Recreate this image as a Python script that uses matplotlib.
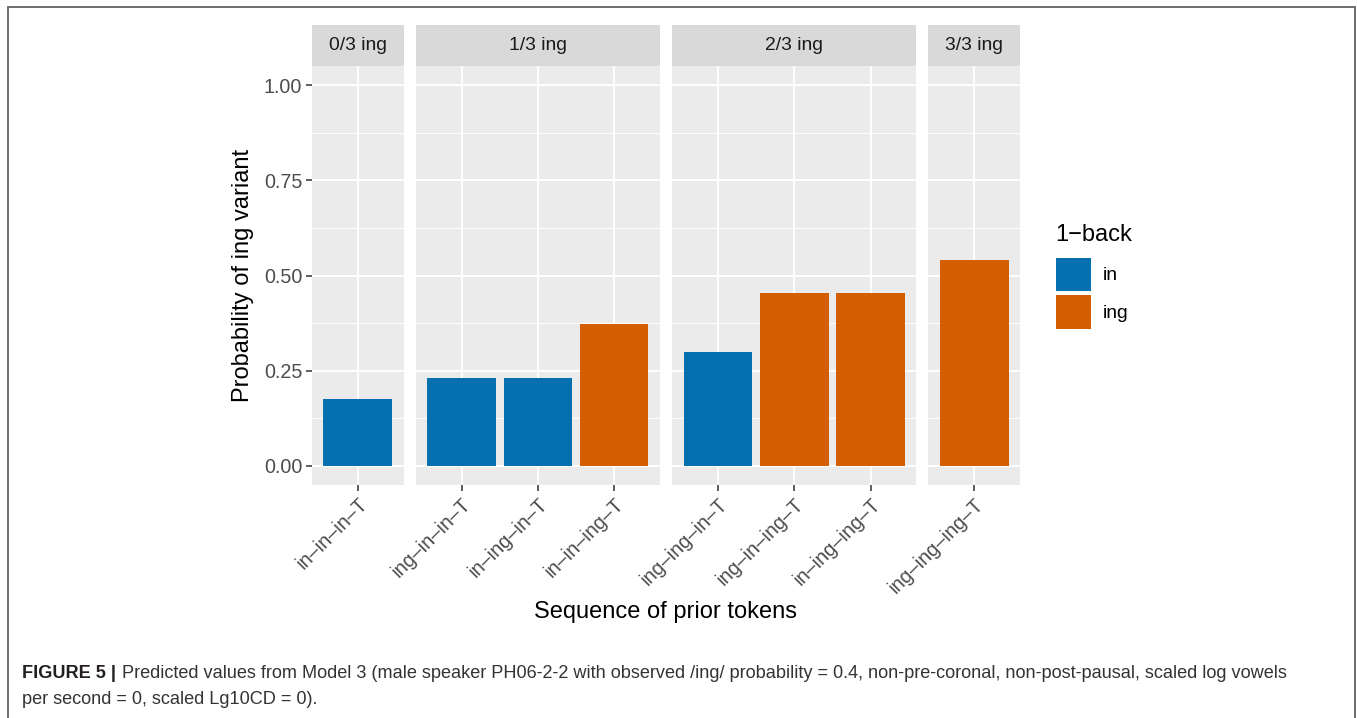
import matplotlib
matplotlib.use("Agg")
import matplotlib.pyplot as plt
from matplotlib.patches import Patch, Rectangle

plt.rcParams['font.family'] = ['Liberation Sans', 'DejaVu Sans']

# ---- data -------------------------------------------------------------
facets = ["0/3 ing", "1/3 ing", "2/3 ing", "3/3 ing"]
sequences = [
    ["in\u2013in\u2013in\u2013T"],
    ["ing\u2013in\u2013in\u2013T", "in\u2013ing\u2013in\u2013T", "in\u2013in\u2013ing\u2013T"],
    ["ing\u2013ing\u2013in\u2013T", "ing\u2013in\u2013ing\u2013T", "in\u2013ing\u2013ing\u2013T"],
    ["ing\u2013ing\u2013ing\u2013T"],
]
probabilities = [
    [0.177],
    [0.232, 0.232, 0.372],
    [0.299, 0.455, 0.455],
    [0.541],
]
one_back = [
    ["in"],
    ["in", "in", "ing"],
    ["in", "ing", "ing"],
    ["ing"],
]
legend_levels = ["in", "ing"]
level_colors = {"in": "#0570B0", "ing": "#D55E00"}
y_ticks = [0.00, 0.25, 0.50, 0.75, 1.00]
y_tick_labels = ["0.00", "0.25", "0.50", "0.75", "1.00"]

# ---- figure -----------------------------------------------------------
W, H = 1357, 718
fig = plt.figure(figsize=(W / 100, H / 100), dpi=100)

def fx(px):
    return px / W

def fy(py):
    return 1 - py / H

panel_left = 312
unit = 76.3          # pixels per discrete x unit
gap = 12.2
panel_top = 66
panel_bottom = 485
strip_top = 25

grey_bg = "#EBEBEB"
strip_bg = "#D9D9D9"
axis_text = "#4D4D4D"
tick_size = 14.2
strip_size = 13.9
title_size = 17.0

x = panel_left
for i, (facet, seqs, vals, backs) in enumerate(zip(facets, sequences, probabilities, one_back)):
    n = len(seqs)
    wpx = (n + 0.2) * unit
    ax = fig.add_axes([fx(x), fy(panel_bottom), wpx / W, (panel_bottom - panel_top) / H])
    ax.set_facecolor(grey_bg)
    pos = list(range(n))
    ax.set_xlim(-0.6, n - 1 + 0.6)
    ax.set_ylim(-0.05, 1.05)
    # grid
    for yv in [0.125, 0.375, 0.625, 0.875]:
        ax.axhline(yv, color="white", lw=0.7, zorder=0.5)
    for yv in y_ticks:
        ax.axhline(yv, color="white", lw=1.4, zorder=0.6)
    for p in pos:
        ax.axvline(p, color="white", lw=1.4, zorder=0.6)
    ax.bar(pos, vals, width=0.9, color=[level_colors[b] for b in backs], zorder=2)
    for s in ax.spines.values():
        s.set_visible(False)
    ax.set_xticks(pos)
    ax.set_xticklabels(seqs, rotation=45, ha="right", rotation_mode="anchor",
                       fontsize=tick_size, color=axis_text)
    ax.tick_params(axis="x", length=4, width=1.1, color="#333333", pad=3)
    if i == 0:
        ax.set_yticks(y_ticks)
        ax.set_yticklabels(y_tick_labels, fontsize=tick_size, color=axis_text)
        ax.tick_params(axis="y", length=4, width=1.1, color="#333333", pad=3)
    else:
        ax.set_yticks([])
    # facet strip
    sax = fig.add_axes([fx(x), fy(panel_top), wpx / W, (panel_top - strip_top) / H])
    sax.set_facecolor(strip_bg)
    sax.set_xticks([])
    sax.set_yticks([])
    for s in sax.spines.values():
        s.set_visible(False)
    sax.text(0.5, 0.5, facet, ha="center", va="center", fontsize=strip_size,
             color="#1A1A1A", transform=sax.transAxes)
    x += wpx + gap

# axis titles
fig.text(fx(243), fy(275), "Probability of ing variant", rotation=90,
         ha="center", va="center", fontsize=title_size, color="black")
fig.text(fx(665), fy(612), "Sequence of prior tokens", ha="center", va="center",
         fontsize=title_size, color="black")

# legend
handles = [Patch(facecolor=level_colors[l], edgecolor="none") for l in legend_levels]
leg = fig.legend(handles, legend_levels, title="1\u2212back",
                 loc="upper left", bbox_to_anchor=(fx(1048), fy(216)),
                 frameon=False, fontsize=strip_size, title_fontsize=title_size,
                 handlelength=1.82, handleheight=2.3, labelspacing=0.2,
                 handletextpad=0.62, borderaxespad=0, alignment="left")
# extra room between the legend title and its keys
leg._legend_box.sep = 8.6

# figure frame
frame = Rectangle((fx(7.5), -0.01), fx(1355) - fx(7.5), fy(6.5) + 0.01,
                  transform=fig.transFigure, fill=False, edgecolor="#6E6E6E",
                  lw=1.4, zorder=10)
fig.patches.append(frame)

# caption
fig.canvas.draw()
renderer = fig.canvas.get_renderer()
cap_size = 13.1
t_bold = fig.text(fx(22), fy(673), "FIGURE 5 |", fontsize=cap_size, fontweight="bold",
                  color="#231F20", ha="left", va="center")
bb = t_bold.get_window_extent(renderer=renderer)
fig.text(bb.x1 / W + fx(6), fy(673),
         "Predicted values from Model 3 (male speaker PH06-2-2 with observed /ing/ probability = 0.4, "
         "non-pre-coronal, non-post-pausal, scaled log vowels",
         fontsize=cap_size, color="#333333", ha="left", va="center")
fig.text(fx(22), fy(700), "per second = 0, scaled Lg10CD = 0).",
         fontsize=cap_size, color="#333333", ha="left", va="center")

fig.savefig("out.png", dpi=100)
